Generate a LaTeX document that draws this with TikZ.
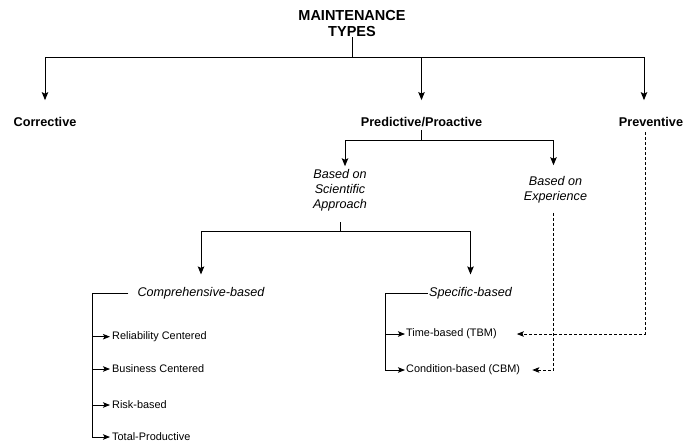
\documentclass[tikz,border=0pt]{standalone}
\usepackage{fontspec}
\setmainfont{Liberation Sans}
\usetikzlibrary{arrows.meta}

\begin{document}
\begin{tikzpicture}
[x=1pt,y=-1pt,
  plainLine/.style={-,line width=0.9pt},%
  arrowLine/.style={-{Stealth[length=8pt,width=6.5pt,inset=1.5pt]},line width=0.9pt},%
  itemArrow/.style={-{Stealth[length=7pt,width=5.5pt,inset=1.5pt]},line width=0.9pt},%
  dashArrow/.style={-{Stealth[length=7pt,width=5.5pt,inset=1.5pt]},line width=0.8pt,dash pattern=on 3pt off 2pt},%
  headDecorate/.style={inner sep=0pt,align=center,font=\fontsize{14.5}{16.5}\selectfont\bfseries},%
  typeDecorate/.style={inner sep=0pt,font=\fontsize{12.7}{15}\selectfont\bfseries},%
  basisDecorate/.style={inner sep=0pt,align=center,font=\fontsize{12.6}{15}\selectfont\itshape},%
  itemDecorate/.style={inner sep=0pt,anchor=west,font=\fontsize{10.9}{13}\selectfont}]
\useasboundingbox (0,0) rectangle (696,445);
%% nodes or labels
\node (title) at (352,23.7) [headDecorate] {MAINTENANCE\\TYPES};
\node (corrective) at (45,122) [typeDecorate] {Corrective};
\node (predictive) at (421.5,122) [typeDecorate] {Predictive/Proactive};
\node (preventive) at (651,122) [typeDecorate] {Preventive};
\node (scientific) at (340,190.3) [basisDecorate] {Based on\\Scientific\\Approach};
\node (experience) at (555.5,189.8) [basisDecorate] {Based on\\Experience};
\node (comprehensive) at (201,293.5) [basisDecorate] {Comprehensive-based};
\node (specific) at (470.5,293.5) [basisDecorate] {Specific-based};
\foreach \nodename/\y/\txt in {reliability/336.7/Reliability Centered, business/369/Business Centered, risk/405/Risk-based, total/437/Total-Productive}
{
  \node (\nodename) at (112,\y) [itemDecorate] {\txt};
}
\foreach \nodename/\y/\txt in {timeBased/334/Time-based (TBM), conditionBased/370/Condition-based (CBM)}
{
  \node (\nodename) at (406,\y) [itemDecorate] {\txt};
}
%% joints
\coordinate (topJoin) at (352,57);
\coordinate (predJoin) at (421.5,140);
\coordinate (sciJoin) at (340,231.5);
\coordinate (compX) at (92,0);
\coordinate (specX) at (385,0);
\coordinate (compBar) at (comprehensive.west -| compX);
\coordinate (specBar) at (specific.west -| specX);
%% tree lines
\draw[plainLine] (title.south) -- (topJoin);
\foreach \endnode/\dx in {corrective/0, predictive/0, preventive/-7}
{
  \draw[arrowLine, shorten >=17pt] (topJoin) -| ([xshift=\dx pt]\endnode.north);
}
\draw[plainLine, shorten <=3pt] (predictive.south) -- (predJoin);
\draw[arrowLine, shorten >=3pt] (predJoin) -| ([xshift=5pt]scientific.north);
\draw[arrowLine, shorten >=11pt] (predJoin) -| ([xshift=-2pt]experience.north);
\draw[plainLine, shorten <=11pt] (scientific.south) -- (sciJoin);
\draw[arrowLine, shorten >=13pt] (sciJoin) -| (comprehensive.north);
\draw[arrowLine, shorten >=13pt] (sciJoin) -| (specific.north);
%% brackets of the lists
\draw[plainLine, shorten <=9pt] (comprehensive.west) -- (compBar);
\foreach \endnode in {reliability, business, risk, total}
{
  \draw[itemArrow, shorten >=2pt] (compBar) |- (\endnode.west);
}
\draw[plainLine, shorten <=1.3pt] (specific.west) -- (specBar);
\foreach \endnode in {timeBased, conditionBased}
{
  \draw[itemArrow, shorten >=1pt] (specBar) |- (\endnode.west);
}
%% dashed links
\draw[dashArrow, shorten <=5.5pt, shorten >=20pt] ([xshift=-5.5pt]preventive.south) |- (timeBased.east);
\draw[dashArrow, shorten <=9.6pt, shorten >=12pt] ([xshift=-2pt]experience.south) |- (conditionBased.east);
\end{tikzpicture}
\end{document}
